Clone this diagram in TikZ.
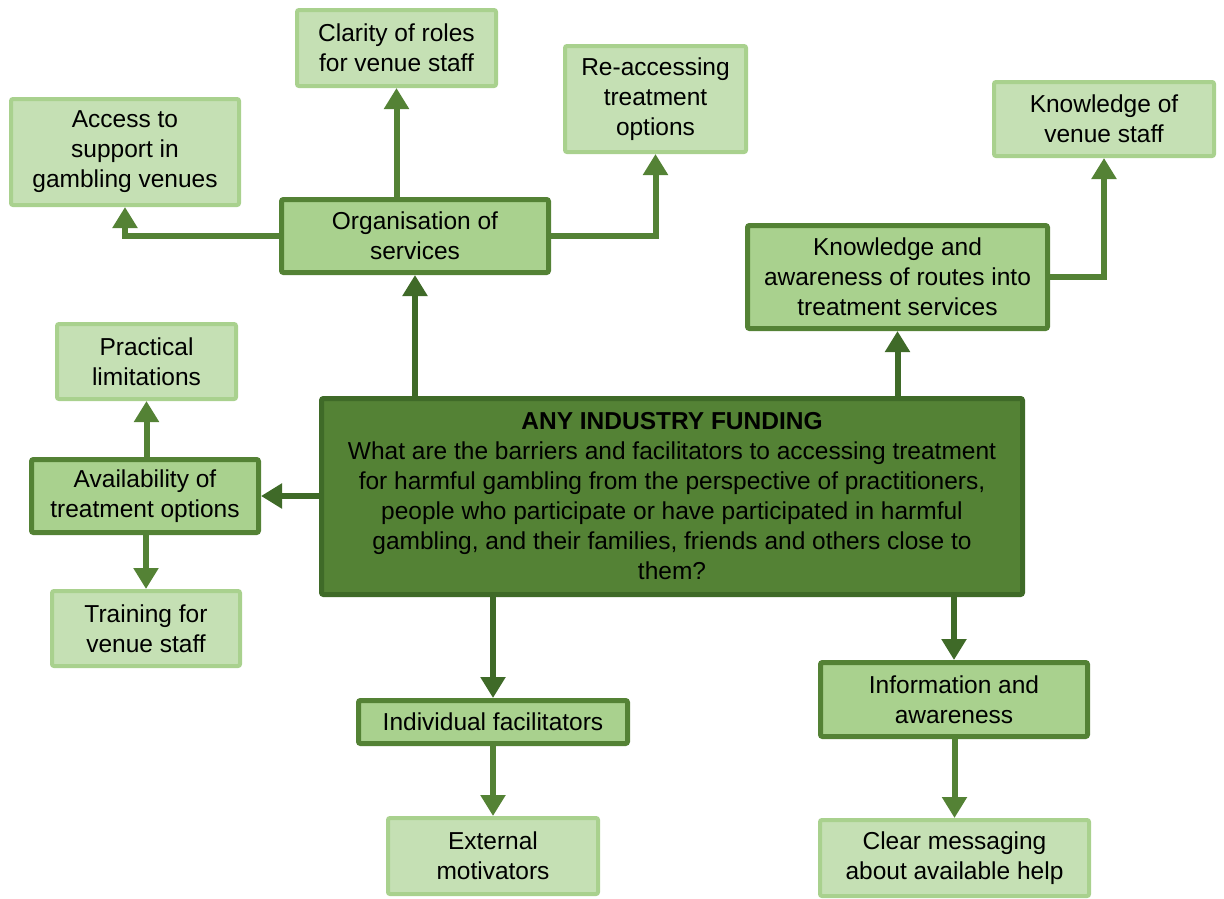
\documentclass[tikz,border=0pt]{standalone}
\usepackage{fontspec}
\setmainfont{Liberation Sans}
\usetikzlibrary{arrows.meta}
\definecolor{gdark}{HTML}{548235}
\definecolor{gdarker}{HTML}{3F6A28}
\definecolor{gmid}{HTML}{A9D18E}
\definecolor{glight}{HTML}{C5E0B4}
\tikzset{
  box/.style={rectangle, rounded corners=2pt, align=center, inner sep=0pt,
    font=\fontsize{24.5}{30}\selectfont, text=black},
  leaf/.style={box, fill=glight, draw=gmid, line width=4pt},
  midbox/.style={box, fill=gmid, draw=gdark, line width=5pt},
  centralbox/.style={box, fill=gdark, draw=gdarker, line width=5pt},
  arr/.style={line width=6pt, draw=gdark, -{Triangle[length=21pt,width=24pt]}},
  darr/.style={arr, draw=gdarker},
}
\begin{document}
\begin{tikzpicture}[x=1pt,y=-1pt]
\useasboundingbox (0,0) rectangle (1224,898);
% leaves
\node[leaf, minimum width=199pt, minimum height=76pt] (clarity) at (396.5,48) {Clarity of roles\\for venue staff};
\node[leaf, minimum width=181pt, minimum height=106pt] (reacc) at (655.5,99) {Re-accessing\\treatment\\options};
\node[leaf, minimum width=228pt, minimum height=106pt] (access) at (125,152) {Access to\\support in\\gambling venues};
\node[leaf, minimum width=220pt, minimum height=74pt] (kvenue) at (1104,119) {Knowledge of\\venue staff};
\node[leaf, minimum width=179pt, minimum height=75pt] (pract) at (146.5,361.5) {Practical\\limitations};
\node[leaf, minimum width=188pt, minimum height=75pt] (train) at (146,628.5) {Training for\\venue staff};
\node[leaf, minimum width=210pt, minimum height=76pt] (extern) at (493,856) {External\\motivators};
\node[leaf, minimum width=269pt, minimum height=76pt] (clear) at (954.5,858) {Clear messaging\\about available help};
% mid level
\node[midbox, minimum width=267pt, minimum height=73pt] (org) at (415,236) {Organisation of\\services};
\node[midbox, minimum width=300pt, minimum height=103pt] (ka) at (897.5,277) {Knowledge and\\awareness of routes into\\treatment services};
\node[midbox, minimum width=227pt, minimum height=73pt] (avail) at (145,496) {Availability of\\treatment options};
\node[midbox, minimum width=269pt, minimum height=43pt] (indiv) at (493,722) {Individual facilitators};
\node[midbox, minimum width=267pt, minimum height=74pt] (info) at (954,699.5) {Information and\\awareness};
% central
\node[centralbox, minimum width=701pt, minimum height=196pt] (central) at (672,496.5)
  {\textbf{ANY INDUSTRY FUNDING}\\What are the barriers and facilitators to accessing treatment\\for harmful gambling from the perspective of practitioners,\\people who participate or have participated in harmful\\gambling, and their families, friends and others close to\\them?};
% connectors from central
\draw[darr] (central.north -| org.south) -- (org.south);
\draw[darr] (central.north -| ka.south) -- (ka.south);
\draw[darr] (central.west |- avail.east) -- (avail.east);
\draw[darr] (central.south -| indiv.north) -- (indiv.north);
\draw[darr] (central.south -| info.north) -- (info.north);
% connectors from mid level
\draw[arr] (org.north -| clarity.south) -- (clarity.south);
\draw[arr] (org.west) -| (access.south);
\draw[arr] (org.east) -| (reacc.south);
\draw[arr] (ka.east) -| (kvenue.south);
\draw[arr] (avail.north -| pract.south) -- (pract.south);
\draw[arr] (avail.south -| train.north) -- (train.north);
\draw[arr] (indiv.south -| extern.north) -- (extern.north);
\draw[arr] (info.south -| clear.north) -- (clear.north);
\end{tikzpicture}
\end{document}
